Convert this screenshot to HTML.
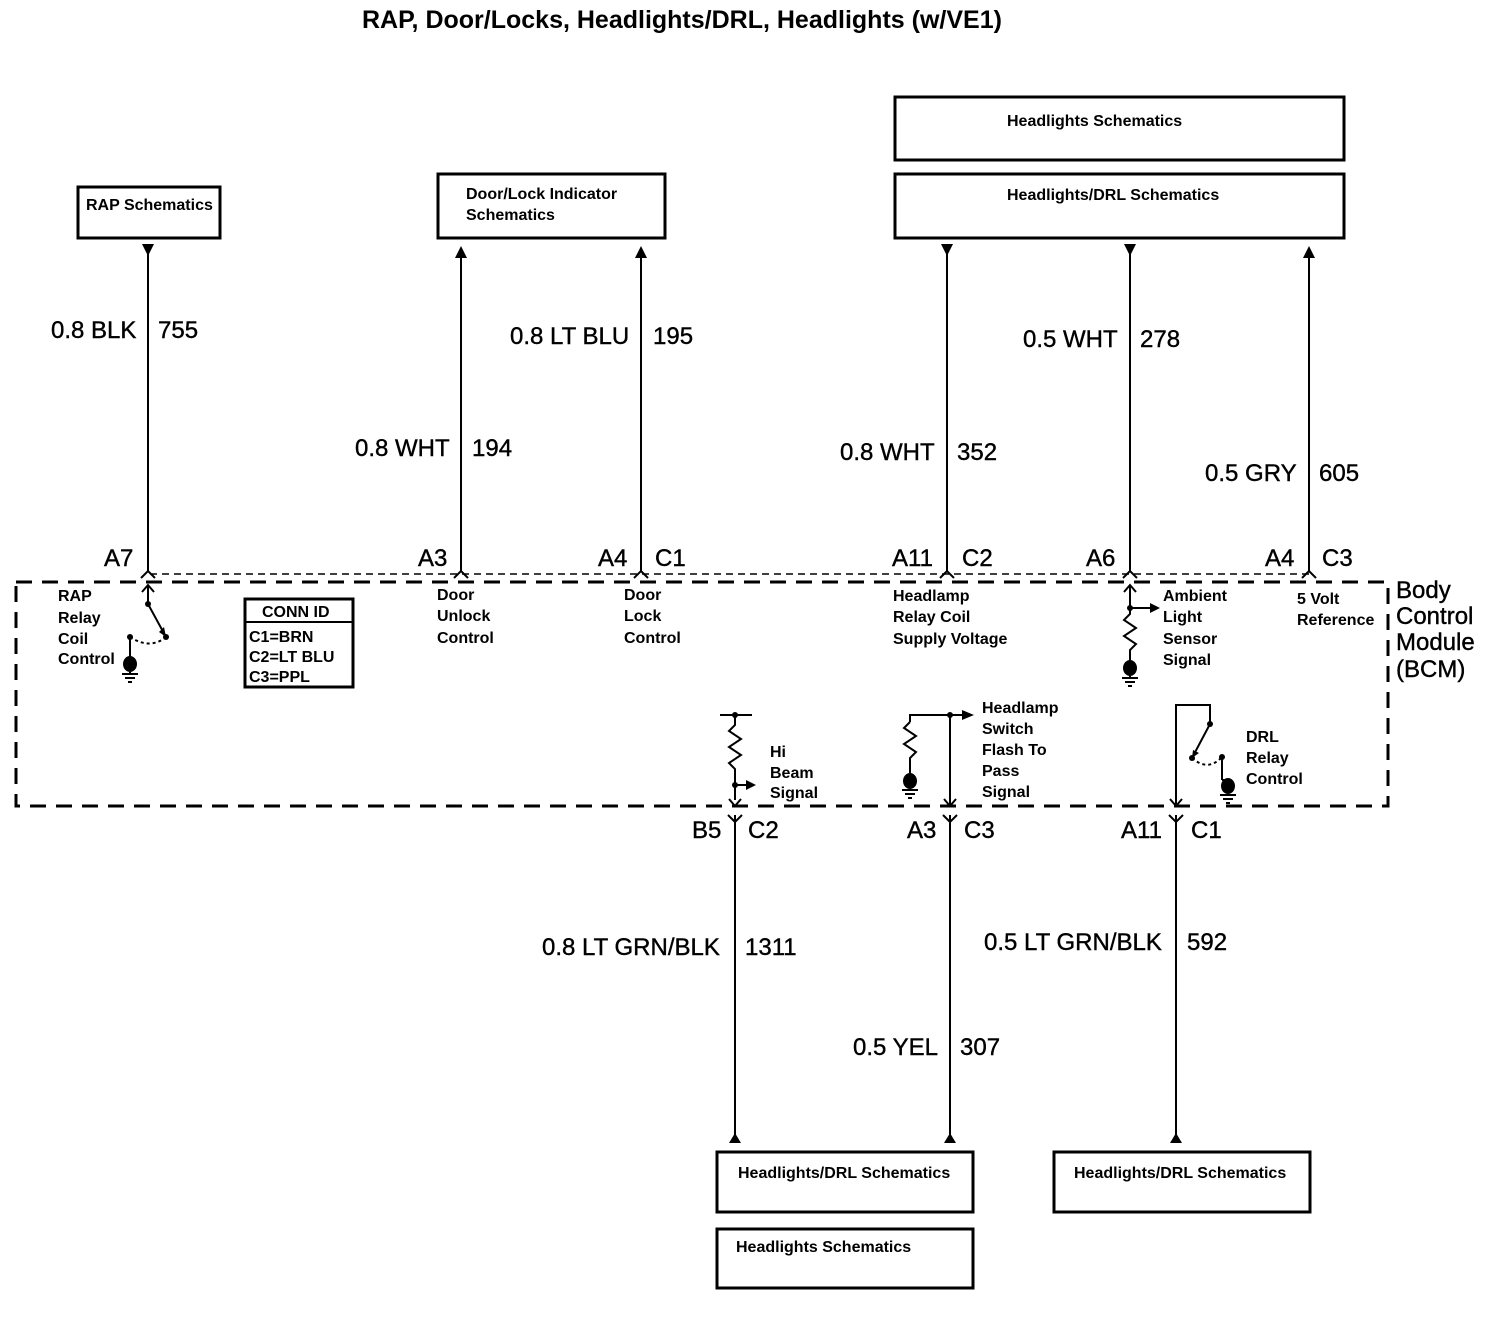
<!DOCTYPE html>
<html><head><meta charset="utf-8"><style>
html,body{margin:0;padding:0;background:#fff}
svg{display:block}
text{font-family:"Liberation Sans",Arial,sans-serif;fill:#000}
.w{font-size:24px;stroke:#000;stroke-width:0.4}
.s{font-size:16px;font-weight:bold}
.b{font-size:16px;font-weight:bold}
</style></head><body>
<svg width="1492" height="1328" viewBox="0 0 1492 1328" xmlns="http://www.w3.org/2000/svg">
<text x="362" y="28" style="font-size:25px;font-weight:bold">RAP, Door/Locks, Headlights/DRL, Headlights (w/VE1)</text>
<g fill="none" stroke="#000" stroke-width="3">
<rect x="78" y="187" width="142" height="51"/>
<rect x="438" y="174" width="227" height="64"/>
<rect x="895" y="97" width="449" height="63"/>
<rect x="895" y="174" width="449" height="64"/>
<rect x="717" y="1152" width="256" height="60"/>
<rect x="717" y="1229" width="256" height="59"/>
<rect x="1054" y="1152" width="256" height="60"/>
</g>
<text class="b" x="86" y="210">RAP Schematics</text>
<text class="b" x="466" y="199">Door/Lock Indicator</text>
<text class="b" x="466" y="220">Schematics</text>
<text class="b" x="1007" y="126">Headlights Schematics</text>
<text class="b" x="1007" y="200">Headlights/DRL Schematics</text>
<text class="b" x="738" y="1178">Headlights/DRL Schematics</text>
<text class="b" x="736" y="1252">Headlights Schematics</text>
<text class="b" x="1074" y="1178">Headlights/DRL Schematics</text>
<g stroke="#000" stroke-width="2" fill="none">
<line x1="148" y1="250" x2="148" y2="572"/>
<line x1="461" y1="250" x2="461" y2="572"/>
<line x1="641" y1="250" x2="641" y2="572"/>
<line x1="947" y1="250" x2="947" y2="572"/>
<line x1="1130" y1="250" x2="1130" y2="572"/>
<line x1="1309" y1="250" x2="1309" y2="572"/>
<line x1="735" y1="815" x2="735" y2="1142"/>
<line x1="950" y1="815" x2="950" y2="1142"/>
<line x1="1176" y1="815" x2="1176" y2="1142"/>
<line x1="150" y1="574" x2="1310" y2="574" stroke-dasharray="7,5" stroke-width="1.5"/>
<path d="M141,578 L148,571 L155,578 M454,578 L461,571 L468,578 M634,578 L641,571 L648,578 M940,578 L947,571 L954,578 M1123,578 L1130,571 L1137,578 M1302,578 L1309,571 L1316,578"/>
<path d="M728,815 L735,822 L742,815 M943,815 L950,822 L957,815 M1169,815 L1176,822 L1183,815"/>
</g>
<g fill="#000">
<path d="M142,244 L154,244 L148,256Z"/>
<path d="M455,258 L467,258 L461,246Z"/>
<path d="M635,258 L647,258 L641,246Z"/>
<path d="M941,244 L953,244 L947,256Z"/>
<path d="M1124,244 L1136,244 L1130,256Z"/>
<path d="M1303,258 L1315,258 L1309,246Z"/>
<path d="M729,1143 L741,1143 L735,1133Z"/>
<path d="M944,1143 L956,1143 L950,1133Z"/>
<path d="M1170,1143 L1182,1143 L1176,1133Z"/>
</g>
<rect x="16" y="582" width="1372" height="224" fill="none" stroke="#000" stroke-width="3" stroke-dasharray="16,10"/>
<text class="w" x="51" y="338">0.8 BLK</text><text class="w" x="158" y="338">755</text>
<text class="w" x="510" y="344">0.8 LT BLU</text><text class="w" x="653" y="344">195</text>
<text class="w" x="355" y="456">0.8 WHT</text><text class="w" x="472" y="456">194</text>
<text class="w" x="840" y="460">0.8 WHT</text><text class="w" x="957" y="460">352</text>
<text class="w" x="1023" y="347">0.5 WHT</text><text class="w" x="1140" y="347">278</text>
<text class="w" x="1205" y="481">0.5 GRY</text><text class="w" x="1319" y="481">605</text>
<text class="w" x="542" y="955">0.8 LT GRN/BLK</text><text class="w" x="745" y="955">1311</text>
<text class="w" x="984" y="950">0.5 LT GRN/BLK</text><text class="w" x="1187" y="950">592</text>
<text class="w" x="853" y="1055">0.5 YEL</text><text class="w" x="960" y="1055">307</text>
<text class="w" x="104" y="566">A7</text>
<text class="w" x="418" y="566">A3</text>
<text class="w" x="598" y="566">A4</text><text class="w" x="655" y="566">C1</text>
<text class="w" x="892" y="566">A11</text><text class="w" x="962" y="566">C2</text>
<text class="w" x="1086" y="566">A6</text>
<text class="w" x="1265" y="566">A4</text><text class="w" x="1322" y="566">C3</text>
<text class="w" x="692" y="838">B5</text><text class="w" x="748" y="838">C2</text>
<text class="w" x="907" y="838">A3</text><text class="w" x="964" y="838">C3</text>
<text class="w" x="1121" y="838">A11</text><text class="w" x="1191" y="838">C1</text>
<text class="w" x="1396" y="598">Body</text>
<text class="w" x="1396" y="624">Control</text>
<text class="w" x="1396" y="650">Module</text>
<text class="w" x="1396" y="677">(BCM)</text>
<text class="s" x="58" y="601">RAP</text><text class="s" x="58" y="623">Relay</text><text class="s" x="58" y="644">Coil</text><text class="s" x="58" y="664">Control</text>
<text class="s" x="437" y="600">Door</text><text class="s" x="437" y="621">Unlock</text><text class="s" x="437" y="643">Control</text>
<text class="s" x="624" y="600">Door</text><text class="s" x="624" y="621">Lock</text><text class="s" x="624" y="643">Control</text>
<text class="s" x="893" y="601">Headlamp</text><text class="s" x="893" y="622">Relay Coil</text><text class="s" x="893" y="644">Supply Voltage</text>
<text class="s" x="1163" y="601">Ambient</text><text class="s" x="1163" y="622">Light</text><text class="s" x="1163" y="644">Sensor</text><text class="s" x="1163" y="665">Signal</text>
<text class="s" x="1297" y="604">5 Volt</text><text class="s" x="1297" y="625">Reference</text>
<text class="s" x="770" y="757">Hi</text><text class="s" x="770" y="778">Beam</text><text class="s" x="770" y="798">Signal</text>
<text class="s" x="982" y="713">Headlamp</text><text class="s" x="982" y="734">Switch</text><text class="s" x="982" y="755">Flash To</text><text class="s" x="982" y="776">Pass</text><text class="s" x="982" y="797">Signal</text>
<text class="s" x="1246" y="742">DRL</text><text class="s" x="1246" y="763">Relay</text><text class="s" x="1246" y="784">Control</text>
<rect x="245" y="599" width="108" height="88" fill="none" stroke="#000" stroke-width="3"/>
<line x1="245" y1="622" x2="353" y2="622" stroke="#000" stroke-width="2"/>
<text class="s" x="262" y="617">CONN ID</text>
<text class="s" x="249" y="642">C1=BRN</text>
<text class="s" x="249" y="662">C2=LT BLU</text>
<text class="s" x="249" y="682">C3=PPL</text>
<g stroke="#000" stroke-width="2" fill="none">
<path d="M142,592 L148,585 L154,592 M148,585 L148,604 L166,637"/>
<path d="M130,637 Q150,650 166,637" stroke-dasharray="3,3"/>
<path d="M130,637 L130,660"/>
<path d="M122,674 L138,674 M125,678 L135,678 M128,682 L132,682"/>
<path d="M1124,592 L1130,585 L1136,592 M1130,585 L1130,608 L1152,608 M1130,608 L1130,614 L1124,620 L1136,628 L1124,636 L1136,644 L1130,650 L1130,662"/>
<path d="M1122,678 L1138,678 M1125,682 L1135,682 M1128,686 L1132,686"/>
<path d="M720,715 L752,715 M735,715 L735,725 L729,731 L741,739 L729,747 L741,755 L729,763 L735,769 L735,800 M735,785 L748,785"/>
<path d="M729,799 L735,806 L741,799"/>
<path d="M910,722 L910,715 L962,715 M950,715 L950,805 M944,799 L950,806 L956,799 M910,722 L904,728 L916,736 L904,744 L916,752 L910,758 L910,775"/>
<path d="M902,790 L918,790 M905,794 L915,794 M908,798 L912,798"/>
<path d="M1176,805 L1176,705 L1210,705 L1210,724 L1192,758 M1170,799 L1176,806 L1182,799"/>
<path d="M1192,758 Q1208,772 1222,757" stroke-dasharray="3,3"/>
<path d="M1222,757 L1222,780"/>
<path d="M1220,795 L1236,795 M1223,799 L1233,799 M1226,803 L1230,803"/>
</g>
<g fill="#000">
<circle cx="148" cy="604" r="3"/><circle cx="166" cy="637" r="3"/><circle cx="130" cy="637" r="3"/>
<ellipse cx="130" cy="664" rx="7" ry="8"/><line x1="130" y1="672" x2="130" y2="674" stroke="#000" stroke-width="2"/>
<path d="M159,632 L166,637 L164,627Z"/>
<circle cx="1130" cy="608" r="3"/><path d="M1150,603 L1160,608 L1150,613Z"/>
<ellipse cx="1130" cy="668" rx="7" ry="8"/><line x1="1130" y1="676" x2="1130" y2="678" stroke="#000" stroke-width="2"/>
<circle cx="735" cy="715" r="3"/><circle cx="735" cy="785" r="3"/><path d="M746,780 L756,785 L746,790Z"/>
<circle cx="950" cy="715" r="3"/><path d="M962,710 L974,715 L962,720Z"/>
<ellipse cx="910" cy="781" rx="7" ry="8"/>
<circle cx="1210" cy="724" r="3"/><circle cx="1192" cy="758" r="3"/><circle cx="1222" cy="757" r="3"/>
<path d="M1193,750 L1192,758 L1199,753Z"/>
<ellipse cx="1228" cy="786" rx="7" ry="8"/>
</g>
<line x1="1222" y1="780" x2="1228" y2="780" stroke="#000" stroke-width="2"/>
</svg>
</body></html>
